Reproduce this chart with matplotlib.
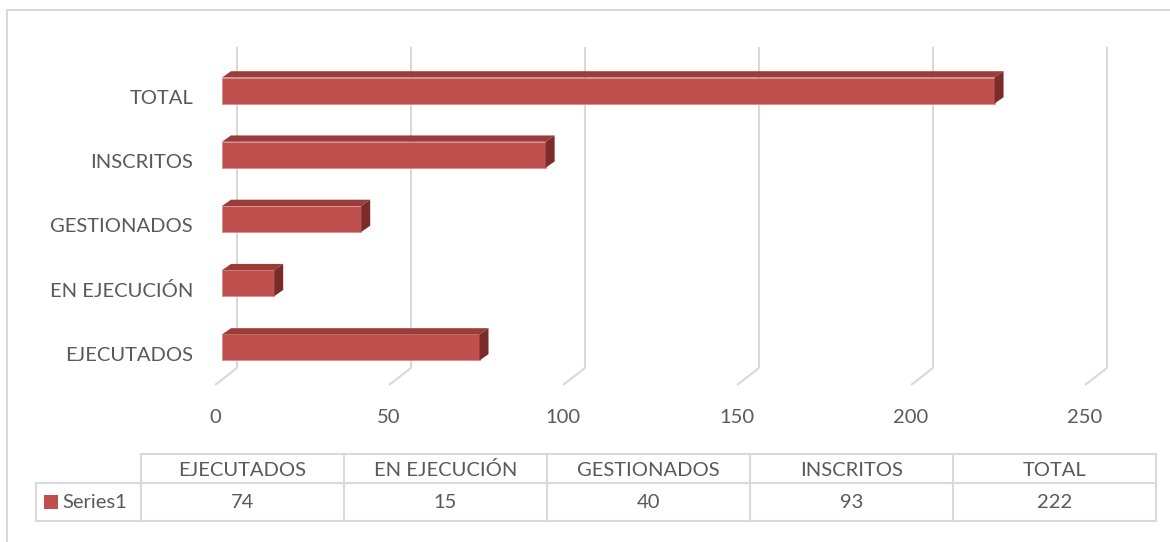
import matplotlib
matplotlib.use("Agg")
import matplotlib.pyplot as plt
from matplotlib.patches import Polygon, Rectangle

# ---- data ----
categories = ["EJECUTADOS", "EN EJECUCIÓN", "GESTIONADOS", "INSCRITOS", "TOTAL"]
values = [74, 15, 40, 93, 222]
series_name = "Series1"
x_ticks = [0, 50, 100, 150, 200, 250]

# ---- style ----
W, H, DPI = 1170, 542, 100
BAR = "#c0504d"
BAR_TOP = "#9a3c39"
BAR_SIDE = "#7b2c2a"
GRID = "#d9d9d9"
TXT = "#595959"
FONT = ["Lato", "DejaVu Sans"]
FS = 14.5

plt.rcParams["font.family"] = FONT

fig = plt.figure(figsize=(W / DPI, H / DPI), dpi=DPI)

# overlay axes in pixel coords for frame and table
ov = fig.add_axes([0, 0, 1, 1])
ov.set_xlim(0, W)
ov.set_ylim(H, 0)
ov.axis("off")

# chart area border
ov.plot([7, 7, W + 5], [H + 5, 10, 10], color=GRID, lw=1.5, solid_capstyle="butt")

# plot axes (bar front plane)
left_px, right_px = 222, 1092
top_px, bot_px = 58.4, 379.6
ax = fig.add_axes([left_px / W, 1 - bot_px / H, (right_px - left_px) / W, (bot_px - top_px) / H])
ax.set_xlim(x_ticks[0], x_ticks[-1])
ax.set_ylim(-0.5, len(categories) - 0.5)
ax.axis("off")

px_x = (x_ticks[-1] - x_ticks[0]) / (right_px - left_px)
px_y = len(categories) / (bot_px - top_px)

back_dx, back_dy = 15 * px_x, 11.6 * px_y
front_dx, front_dy = -7 * px_x, -5.4 * px_y
bar_dx, bar_dy = 9 * px_x, 6.3 * px_y
ylo, yhi = ax.get_ylim()

# gridlines on back wall + floor diagonals
for t in x_ticks:
    ax.plot([t + back_dx, t + back_dx], [ylo + back_dy, yhi + back_dy], color=GRID, lw=1.5,
            clip_on=False, zorder=1, solid_capstyle="butt")
    ax.plot([t + back_dx, t + front_dx], [ylo + back_dy, ylo + front_dy], color=GRID, lw=1.5,
            clip_on=False, zorder=1, solid_capstyle="butt")
    ax.text(t + front_dx, ylo - 37.5 * px_y, str(t), ha="center", va="center",
            fontsize=FS, color=TXT, clip_on=False)

# bars
h = 0.405
ypos = list(range(len(categories)))
ax.barh(ypos, values, height=h, color=BAR, edgecolor="#d88e8b", linewidth=0.6, zorder=3)
for y, v in zip(ypos, values):
    top = y + h / 2
    bot = y - h / 2
    ax.add_patch(Polygon([(0, top), (v, top), (v + bar_dx, top + bar_dy), (bar_dx, top + bar_dy)],
                         closed=True, facecolor=BAR_TOP, edgecolor="none", zorder=3, clip_on=False))
    ax.add_patch(Polygon([(v, bot), (v, top), (v + bar_dx, top + bar_dy), (v + bar_dx, bot + bar_dy)],
                         closed=True, facecolor=BAR_SIDE, edgecolor="none", zorder=3, clip_on=False))

# category labels
for y, c in zip(ypos, categories):
    ax.text(-29 * px_x, y + front_dy - 2.5 * px_y, c, ha="right", va="center", fontsize=FS,
            color=TXT, clip_on=False)

# ---- data table ----
tbl_left, tbl_right = 36, 1156
col0 = 141
ncol = len(categories)
colw = (tbl_right - col0) / ncol
r_top, r_mid, r_bot = 454, 483, 521
lw_t = 1.5
# horizontal lines
ov.plot([col0, tbl_right], [r_top, r_top], color=GRID, lw=lw_t)
ov.plot([tbl_left, tbl_right], [r_mid, r_mid], color=GRID, lw=lw_t)
ov.plot([tbl_left, tbl_right], [r_bot, r_bot], color=GRID, lw=lw_t)
# vertical lines
ov.plot([tbl_left, tbl_left], [r_mid, r_bot], color=GRID, lw=lw_t)
for i in range(ncol + 1):
    x = col0 + i * colw
    ov.plot([x, x], [r_top, r_bot], color=GRID, lw=lw_t)
for i, (c, v) in enumerate(zip(categories, values)):
    xc = col0 + (i + 0.5) * colw
    ov.text(xc, (r_top + r_mid) / 2 + 1.5, c, ha="center", va="center", fontsize=FS, color=TXT)
    ov.text(xc, (r_mid + r_bot) / 2 + 1, str(v), ha="center", va="center", fontsize=FS, color=TXT)
ov.add_patch(Rectangle((44, 495), 14, 14, facecolor=BAR, edgecolor="none"))
ov.text(62, (r_mid + r_bot) / 2 + 1, series_name, ha="left", va="center", fontsize=FS, color=TXT)

fig.savefig("out.png", dpi=DPI)
